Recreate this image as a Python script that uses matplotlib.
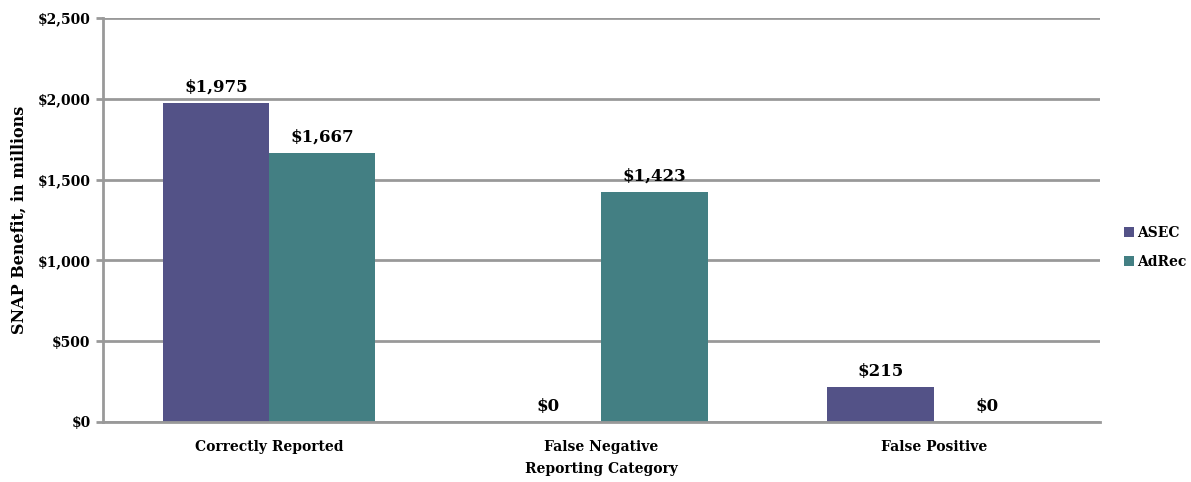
import matplotlib
matplotlib.use("Agg")
import matplotlib.pyplot as plt
import numpy as np

categories = ["Correctly Reported", "False Negative", "False Positive"]
series_names = ["ASEC", "AdRec"]
asec = [1975, 0, 215]
adrec = [1667, 1423, 0]
yticks = [0, 500, 1000, 1500, 2000, 2500]
ytick_labels = ["$0", "$500", "$1,000", "$1,500", "$2,000", "$2,500"]
colors = ["#535287", "#437f83"]

plt.rcParams['font.family'] = ['DejaVu Serif']
fig = plt.figure(figsize=(11.91, 4.82), dpi=100)
ax = fig.add_axes([0.0865, 0.1245, 0.837, 0.8382])

x = np.arange(len(categories))
w = 0.32
b1 = ax.bar(x - w/2, asec, w, color=colors[0], label=series_names[0])
b2 = ax.bar(x + w/2, adrec, w, color=colors[1], label=series_names[1])

for bars in (b1, b2):
    for r in bars:
        v = r.get_height()
        ax.text(r.get_x() + r.get_width()/2, v + 45, f"${v:,.0f}",
                ha="center", va="bottom", fontsize=12, fontweight="bold")

ax.set_xlim(-0.5, 2.5)
ax.set_ylim(0, 2500)
ax.set_yticks(yticks)
ax.set_yticklabels(ytick_labels, fontsize=10, fontweight="bold")
ax.set_xticks(x)
ax.set_xticklabels(categories, fontsize=10, fontweight="bold")
ax.tick_params(axis="x", length=0, pad=13)
ax.tick_params(axis="y", length=5, width=2, color="#999999", direction="out", pad=4)
ax.grid(axis="y", color="#999999", linewidth=2)
ax.set_axisbelow(True)
for s in ["top", "right"]:
    ax.spines[s].set_visible(False)
for s in ["left", "bottom"]:
    ax.spines[s].set_color("#999999")
    ax.spines[s].set_linewidth(2)
ax.set_xlabel("Reporting Category", fontsize=10, fontweight="bold", labelpad=6)
ax.set_ylabel("SNAP Benefit, in millions", fontsize=11.5, fontweight="bold", labelpad=7)

ax.legend(loc="center left", bbox_to_anchor=(1.012, 0.432), frameon=False,
          prop={"size": 10, "weight": "bold"}, handlelength=0.7, handleheight=0.7,
          handletextpad=0.2, labelspacing=1.1)

fig.savefig("out.png", dpi=100)
